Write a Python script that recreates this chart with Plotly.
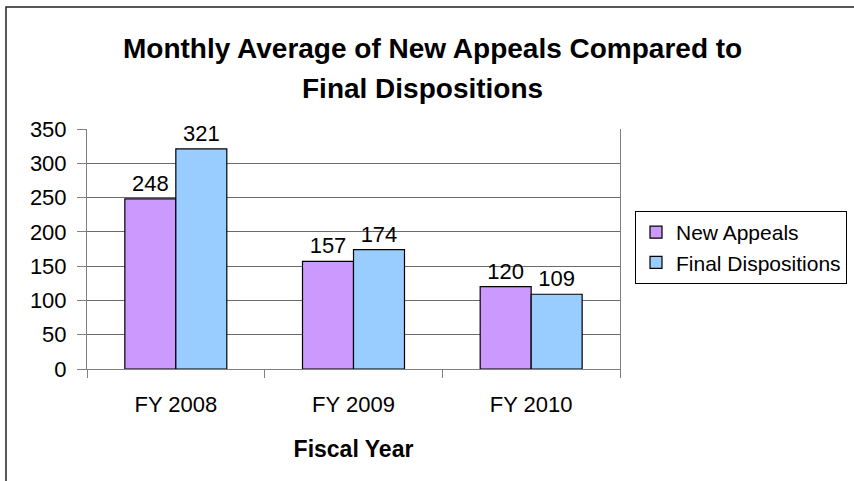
import plotly.graph_objects as go

categories = ["FY 2008", "FY 2009", "FY 2010"]
new_appeals = [248, 157, 120]
final_dispositions = [321, 174, 109]
series_names = ["New Appeals", "Final Dispositions"]
title_lines = ["Monthly Average of New Appeals Compared to", "Final Dispositions"]
x_title = "Fiscal Year"

FONT = "Liberation Sans, Arial, sans-serif"
W, H = 854, 481
ML, MR, MT, MB = 87, 234, 129, 112
pw = W - ML - MR
ph = H - MT - MB

def px_to_paper_x(px):
    return (px - ML) / pw

def px_to_paper_y(py):
    return (H - MB - py) / ph

fig = go.Figure()
fig.add_trace(go.Bar(
    name=series_names[0], x=categories, y=new_appeals,
    marker=dict(color="#CC99FF", line=dict(color="#000000", width=1.2)),
    text=[str(v) for v in new_appeals], textposition="outside",
    textfont=dict(family=FONT, size=22, color="#000000"), cliponaxis=False,
))
fig.add_trace(go.Bar(
    name=series_names[1], x=categories, y=final_dispositions,
    marker=dict(color="#99CCFF", line=dict(color="#000000", width=1.2)),
    text=[str(v) for v in final_dispositions], textposition="outside",
    textfont=dict(family=FONT, size=22, color="#000000"), cliponaxis=False,
))

fig.update_layout(
    width=W, height=H,
    margin=dict(l=ML, r=MR, t=MT, b=MB, autoexpand=False),
    paper_bgcolor="#FFFFFF", plot_bgcolor="#FFFFFF",
    font=dict(family=FONT, size=22, color="#000000"),
    barmode="group", bargap=0.426, bargroupgap=0,
    showlegend=True,
    legend=dict(
        x=px_to_paper_x(635), y=px_to_paper_y(211), xanchor="left", yanchor="top",
        bordercolor="#000000", borderwidth=1, bgcolor="#FFFFFF",
        font=dict(family=FONT, size=21, color="#000000"),
        itemwidth=30, tracegroupgap=0,
    ),
    xaxis=dict(
        showline=True, linecolor="#808080", linewidth=1,
        ticks="outside", tickson="boundaries", ticklen=8, tickcolor="#808080",
        tickfont=dict(family=FONT, size=22, color="#000000"),
        ticklabelstandoff=16,
        title=dict(text="<b>" + x_title + "</b>", font=dict(family=FONT, size=23, color="#000000"), standoff=24),
        showgrid=False, zeroline=False,
    ),
    yaxis=dict(
        range=[0, 350], dtick=50, tick0=0,
        showline=True, linecolor="#808080", linewidth=1, mirror=True,
        ticks="outside", ticklen=9, tickcolor="#808080",
        tickfont=dict(family=FONT, size=22, color="#000000"),
        ticklabelstandoff=6,
        showgrid=True, gridcolor="#6a6a6a", gridwidth=1, zeroline=False,
    ),
    shapes=[dict(
        type="rect", xref="paper", yref="paper",
        x0=px_to_paper_x(6), x1=px_to_paper_x(W + 20),
        y0=px_to_paper_y(H + 20), y1=px_to_paper_y(7),
        line=dict(color="#222222", width=1.5), fillcolor="rgba(0,0,0,0)", layer="below",
    )],
    annotations=[
        dict(text="<b>" + title_lines[0] + "</b>", xref="paper", yref="paper",
             x=px_to_paper_x(432), y=px_to_paper_y(48), xanchor="center", yanchor="middle",
             showarrow=False, font=dict(family=FONT, size=28, color="#000000")),
        dict(text="<b>" + title_lines[1] + "</b>", xref="paper", yref="paper",
             x=px_to_paper_x(422), y=px_to_paper_y(89), xanchor="center", yanchor="middle",
             showarrow=False, font=dict(family=FONT, size=28, color="#000000")),
    ],
)

fig.write_html("out.html", config={"displayModeBar": False})

# remove default page margin so the chart sits at the window origin
with open("out.html", "r", encoding="utf-8") as f:
    html = f.read()
html = html.replace("<body>", '<body style="margin:0;padding:0;overflow:hidden">', 1)
with open("out.html", "w", encoding="utf-8") as f:
    f.write(html)
